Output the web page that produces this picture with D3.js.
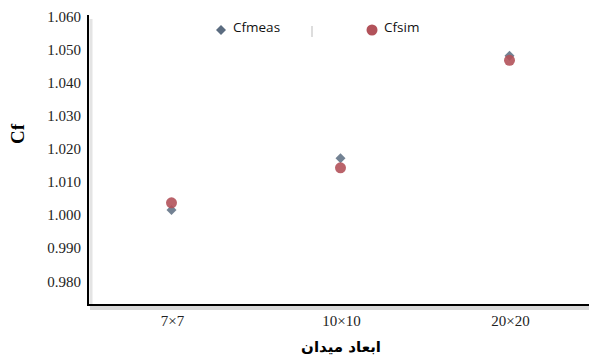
<!DOCTYPE html>
<html>
<head>
<meta charset="utf-8">
<script src="https://cdn.jsdelivr.net/npm/d3@7"></script>
<style>
  body { margin: 0; background: #fff; }
</style>
</head>
<body>
<div id="chart"></div>
<script>
var categories = ["7×7", "10×10", "20×20"];
var cfMeas = [1.0015, 1.0172, 1.0482];
var cfSim = [1.0037, 1.0143, 1.0468];
var yTicks = [0.980, 0.990, 1.000, 1.010, 1.020, 1.030, 1.040, 1.050, 1.060];
var seriesNames = ["Cfmeas", "Cfsim"];

var serif = "'Liberation Serif', 'Times New Roman', 'DejaVu Serif', serif";
var width = 589, height = 359;
var margin = {top: 15, right: 0, bottom: 54, left: 88};

var svg = d3.select("#chart").append("svg")
  .attr("width", width)
  .attr("height", height);

var x = d3.scaleBand()
  .domain(categories)
  .range([margin.left, 595]);

var y = d3.scaleLinear()
  .domain([0.9728, 1.0605])
  .range([height - margin.bottom, margin.top]);

// axis shadows
svg.append("line")
  .attr("x1", margin.left + 2).attr("x2", width)
  .attr("y1", y.range()[0] + 3).attr("y2", y.range()[0] + 3)
  .attr("stroke", "#d8d8d8").attr("stroke-width", 4);
svg.append("line")
  .attr("x1", margin.left + 3).attr("x2", margin.left + 3)
  .attr("y1", margin.top + 4).attr("y2", y.range()[0])
  .attr("stroke", "#e4e4e4").attr("stroke-width", 3);

// y axis
var yAxis = svg.append("g")
  .attr("transform", "translate(" + margin.left + ",0)")
  .call(d3.axisLeft(y).tickValues(yTicks).tickFormat(d3.format(".3f")).tickSize(0).tickPadding(7));
yAxis.select(".domain").remove();
yAxis.selectAll("text")
  .style("font-family", serif)
  .style("font-size", "15px")
  .attr("fill", "#222");

svg.append("line")
  .attr("x1", margin.left).attr("x2", margin.left)
  .attr("y1", margin.top).attr("y2", y.range()[0])
  .attr("stroke", "#000").attr("stroke-width", 2);

// x axis
var xAxis = svg.append("g")
  .attr("transform", "translate(0," + y.range()[0] + ")")
  .call(d3.axisBottom(x).tickSize(0).tickPadding(10));
xAxis.select(".domain").remove();
xAxis.selectAll("text")
  .style("font-family", serif)
  .style("font-size", "15px")
  .attr("fill", "#222");

svg.append("line")
  .attr("x1", margin.left - 1).attr("x2", width)
  .attr("y1", y.range()[0]).attr("y2", y.range()[0])
  .attr("stroke", "#000").attr("stroke-width", 2);

// axis titles
svg.append("text")
  .attr("transform", "translate(24,134) rotate(-90)")
  .attr("text-anchor", "middle")
  .style("font-family", serif)
  .style("font-weight", "bold")
  .style("font-size", "19px")
  .text("Cf");

svg.append("text")
  .attr("x", 341).attr("y", 352)
  .attr("text-anchor", "middle")
  .attr("direction", "rtl")
  .style("font-family", "'DejaVu Sans', sans-serif")
  .style("font-weight", "bold")
  .style("font-size", "15px")
  .text("ابعاد میدان");

// points
var diamond = d3.symbol().type(d3.symbolSquare).size(50);
var meas = svg.append("g");
var sim = svg.append("g");

sim.selectAll("circle")
  .data(cfSim)
  .enter().append("circle")
  .attr("cx", function(d, i) { return x(categories[i]) + x.bandwidth() / 2 - 1; })
  .attr("cy", function(d) { return y(d); })
  .attr("r", 5.5)
  .attr("fill", "#b2525a")
  .attr("opacity", 0.9);

meas.selectAll("path")
  .data(cfMeas)
  .enter().append("path")
  .attr("d", diamond)
  .attr("transform", function(d, i) {
    return "translate(" + (x(categories[i]) + x.bandwidth() / 2 - 1) + "," + y(d) + ") rotate(45)";
  })
  .attr("fill", "#5b6c80")
  .attr("opacity", 0.85);

// legend
var legend = svg.append("g");
legend.append("path")
  .attr("d", diamond)
  .attr("transform", "translate(221,30) rotate(45)")
  .attr("fill", "#5b6c80");
legend.append("circle")
  .attr("cx", 372).attr("cy", 30).attr("r", 5.5)
  .attr("fill", "#b2525a");
legend.selectAll("text")
  .data(seriesNames)
  .enter().append("text")
  .attr("x", function(d, i) { return i === 0 ? 233 : 384; })
  .attr("y", 32)
  .style("font-family", "'Open Sans', 'Noto Sans', sans-serif")
  .style("font-size", "13.5px")
  .attr("fill", "#111")
  .text(function(d) { return d; });
legend.append("line")
  .attr("x1", 312).attr("x2", 312).attr("y1", 26).attr("y2", 37)
  .attr("stroke", "#bbb").attr("stroke-width", 1);
</script>
</body>
</html>
